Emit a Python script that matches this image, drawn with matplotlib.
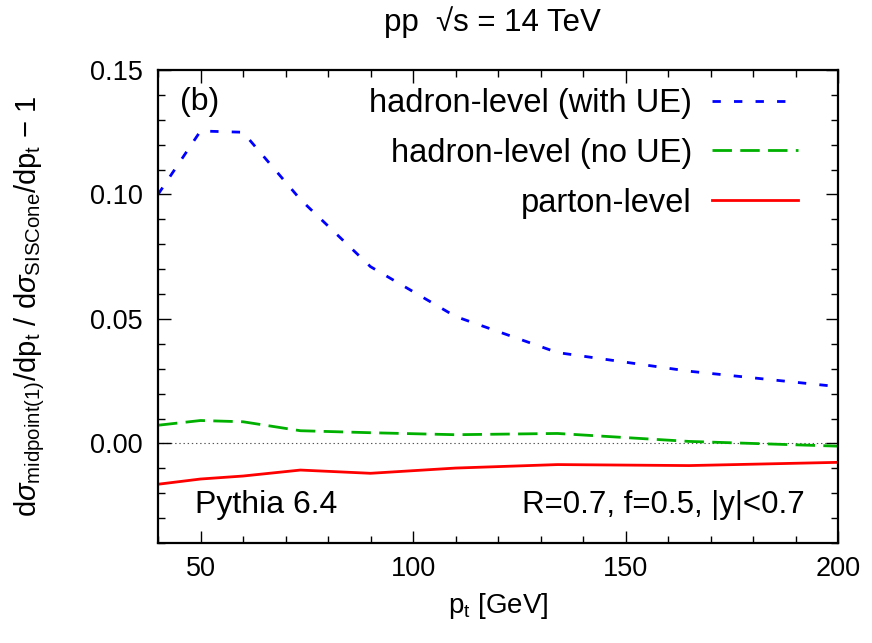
import matplotlib
matplotlib.use("Agg")
import matplotlib.pyplot as plt
from matplotlib.ticker import MultipleLocator

plt.rcParams['font.family'] = ['Liberation Sans', 'DejaVu Sans']
plt.rcParams['mathtext.fontset'] = 'custom'
plt.rcParams['mathtext.rm'] = 'Liberation Sans'
plt.rcParams['mathtext.it'] = 'Liberation Sans:italic'
plt.rcParams['mathtext.bf'] = 'Liberation Sans:bold'
plt.rcParams['lines.scale_dashes'] = False

# data
pt = [40, 50, 60, 73.5, 90, 110, 134, 165, 200]
with_ue = [0.100, 0.1255, 0.125, 0.098, 0.071, 0.051, 0.0365, 0.0290, 0.0228]
no_ue = [0.0073, 0.0092, 0.0087, 0.0051, 0.0043, 0.0035, 0.0040, 0.0008, -0.0011]
parton = [-0.0164, -0.0143, -0.0131, -0.0107, -0.0120, -0.0099, -0.0085, -0.0089, -0.0076]

labels = ['hadron-level (with UE)', 'hadron-level (no UE)', 'parton-level']
title = 'pp  \u221As = 14 TeV'

fig = plt.figure(figsize=(8.72, 6.43), dpi=100)
ax = fig.add_axes([158/872, 1 - 543/643, (838-158)/872, (543-70)/643])

ax.axhline(0, color='#555555', lw=0.8, ls=(0, (1, 2)), zorder=1)
ax.plot(pt, with_ue, color='#0000ff', lw=2.0, dashes=(6.0, 9.5), label=labels[0])
ax.plot(pt, no_ue, color='#00b000', lw=2.0, dashes=(14, 6), label=labels[1])
ax.plot(pt, parton, color='#ff0000', lw=2.0, label=labels[2])

ax.set_xlim(40, 200)
ax.set_ylim(-0.04, 0.15)
ax.xaxis.set_major_locator(MultipleLocator(50))
ax.xaxis.set_minor_locator(MultipleLocator(10))
ax.yaxis.set_minor_locator(MultipleLocator(0.01))
ax.set_yticks([0.0, 0.05, 0.10, 0.15])
ax.set_yticklabels(['0.00', '0.05', '0.10', '0.15'])
ax.tick_params(which='both', direction='in', top=True, right=True, labelsize=19.5, width=1.0)
ax.tick_params(which='major', length=9)
ax.tick_params(axis='y', which='major', pad=11)
ax.tick_params(axis='x', which='major', pad=9)
ax.tick_params(which='minor', length=5)
for s in ax.spines.values():
    s.set_linewidth(1.6)

ax.set_xlabel(r'p$_{\rm t}$ [GeV]', fontsize=20, labelpad=7)
ax.set_ylabel(r'd$\sigma_{\rm midpoint(1)}$/dp$_{\rm t}$ / d$\sigma_{\rm SISCone}$/dp$_{\rm t}$ $-$ 1',
              fontsize=21, labelpad=31)
fig.text(492/872, 1 - 22/643, title, ha='center', va='center', fontsize=22.5)

leg = ax.legend(loc='upper right', frameon=False, markerfirst=False, fontsize=23.5,
                handlelength=2.64, labelspacing=0.58, borderaxespad=0.0, borderpad=0.0,
                bbox_to_anchor=(0.941, 0.962), handletextpad=0.61)

ax.text(0.032, 0.933, '(b)', transform=ax.transAxes, fontsize=23, ha='left', va='center')
ax.text(0.054, 0.080, 'Pythia 6.4', transform=ax.transAxes, fontsize=23, ha='left', va='center')
ax.text(0.951, 0.080, 'R=0.7, f=0.5, |y|<0.7', transform=ax.transAxes, fontsize=22.5, ha='right', va='center')

fig.savefig('out.png', dpi=100)
